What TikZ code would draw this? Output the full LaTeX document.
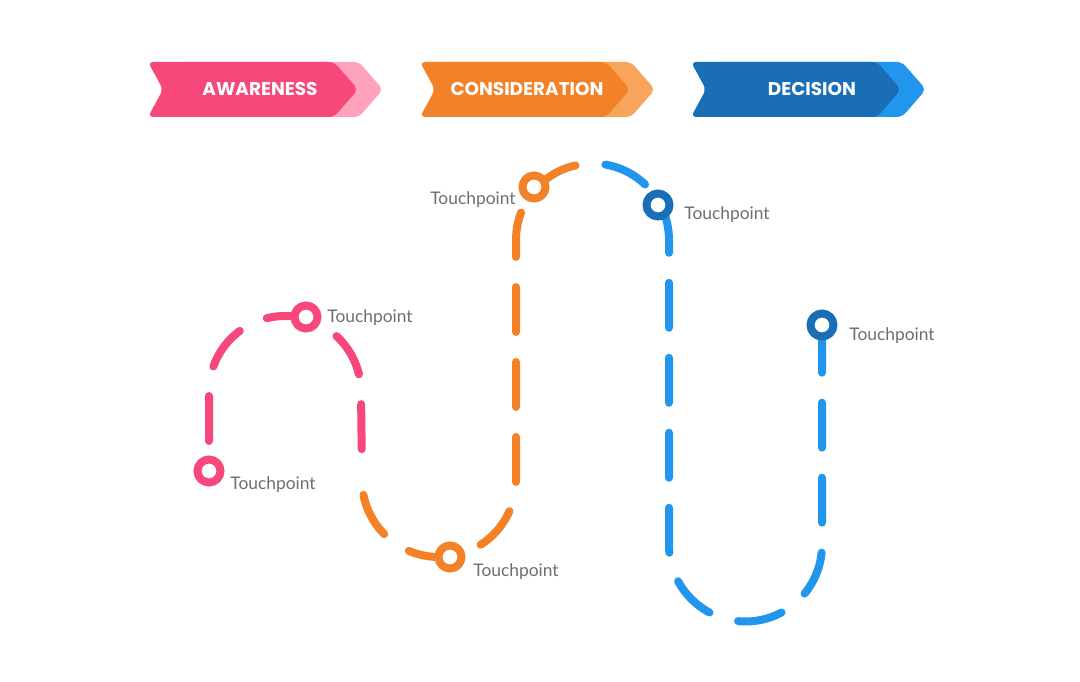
\documentclass[tikz,border=0pt]{standalone}
\usepackage{fontspec}
\usetikzlibrary{backgrounds}
\newfontfamily\bannerfont{Poppins}
\newfontfamily\labelfont{Lato}
\definecolor{pinkc}{HTML}{F6487A}
\definecolor{pinklight}{HTML}{FFA3BC}
\definecolor{orangec}{HTML}{F28127}
\definecolor{orangelight}{HTML}{F8A45C}
\definecolor{bluedark}{HTML}{1A6EB6}
\definecolor{bluelight}{HTML}{2296EC}
\definecolor{labelgray}{HTML}{6E6E6E}

\begin{document}
\begin{tikzpicture}[x=0.02cm,y=-0.02cm,
  trail/.style={line width=0.16cm,line cap=round,dash pattern=on 0.9cm off 0.6cm},
  touch/.style={circle,draw=#1,fill=white,line width=0.16cm,minimum size=0.46cm,inner sep=0pt},
  tplabel/.style={text=labelgray,inner sep=0pt,font=\labelfont\fontsize{9.9}{11}\selectfont},
  bannertext/.style={text=white,inner sep=0pt,font=\bannerfont\bfseries\fontsize{10.5}{12}\selectfont}]
  \useasboundingbox (0,0) rectangle (1080,682);

  % stage banners: light chevron behind, notched body in front
  \foreach \bx/\tx/\bc/\bl/\bt/\bn in {148/260/pinkc/pinklight/AWARENESS/aware,
      420/527/orangec/orangelight/CONSIDERATION/consider,
      691/812/bluedark/bluelight/DECISION/decide}{
    \fill[\bl,rounded corners=3] (\bx+25,62) -- ++(186,0) -- ++(24,27.5)
      -- ++(-24,27.5) -- ++(-186,0) -- ++(15,-27.5) -- cycle;
    \fill[\bc,rounded corners=3] (\bx,62) -- ++(186,0) -- ++(24,27.5)
      -- ++(-24,27.5) -- ++(-186,0) -- ++(15,-27.5) -- cycle;
    \node[bannertext] (\bn) at (\tx,89.5) {\bt};
  }

  % touchpoints
  \node[touch=pinkc] (tp1) at (209,471) {};
  \node[touch=pinkc] (tp2) at (306,317) {};
  \node[touch=orangec] (tp3) at (450,557) {};
  \node[touch=orangec] (tp4) at (534,187) {};
  \node[touch=bluedark] (tp5) at (658,205) {};
  \node[touch=bluedark] (tp6) at (822,325) {};

  % the journey, one dashed line changing colour, kept under the rings
  \begin{scope}[on background layer]
  \draw[trail,pinkc,dash phase=0.9cm] (tp1.center) -- (209,392)
    arc (180:360:76) -- (362,475);
  \draw[trail,orangec,dash phase=1.2cm] (362,480) arc (180:0:77)
    -- (516,240) arc (180:270:76.5) coordinate (top);
  \draw[trail,bluelight,dash phase=1.24cm] (top) arc (270:360:76.5)
    -- (669,545) arc (180:0:76.5) -- (tp6.center);
  \end{scope}

  % labels
  \node[tplabel,anchor=west] (lab1) at (230,485) {Touchpoint};
  \node[tplabel,anchor=west] (lab2) at (327,318) {Touchpoint};
  \node[tplabel,anchor=west] (lab3) at (473,572) {Touchpoint};
  \node[tplabel,anchor=east] (lab4) at (516,200) {Touchpoint};
  \node[tplabel,anchor=west] (lab5) at (684,215) {Touchpoint};
  \node[tplabel,anchor=west] (lab6) at (849,336) {Touchpoint};
\end{tikzpicture}
\end{document}
